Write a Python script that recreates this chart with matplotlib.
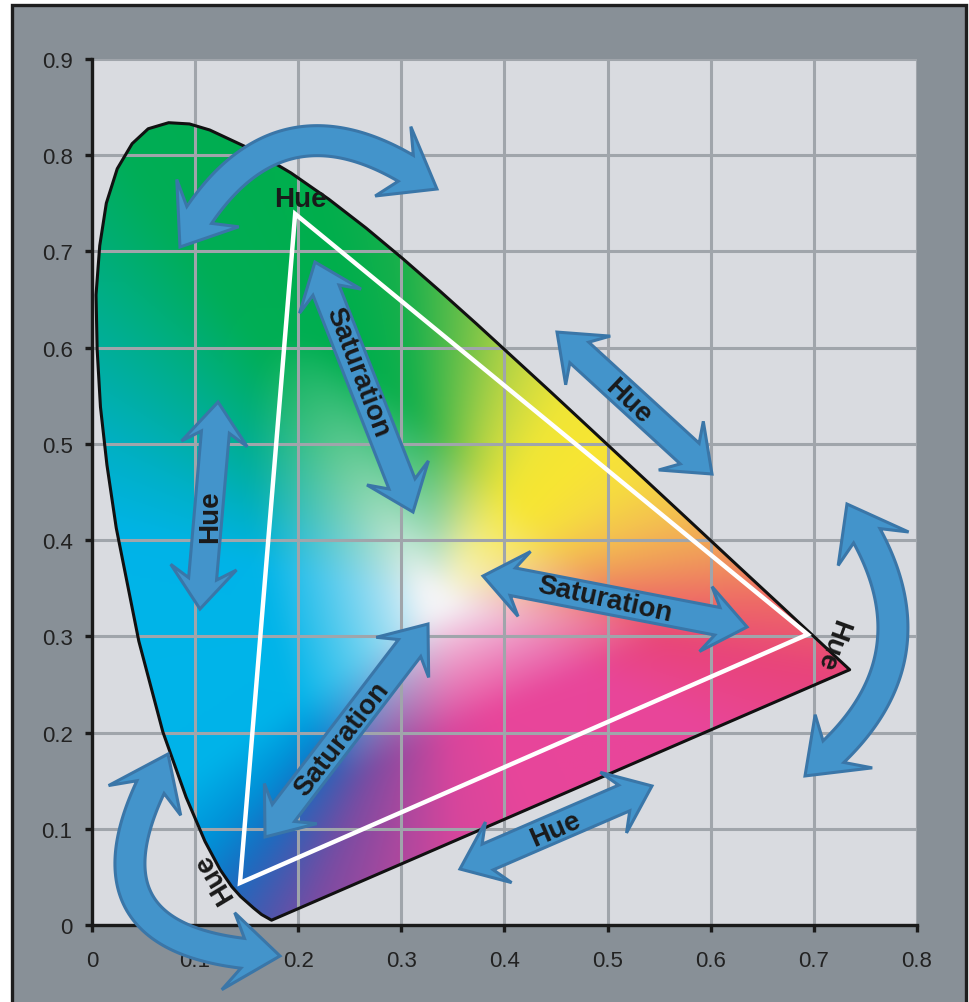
import numpy as np
import matplotlib
matplotlib.use("Agg")
import matplotlib.pyplot as plt
from matplotlib.patches import Polygon, Rectangle
from matplotlib.colors import to_rgb

plt.rcParams["font.family"] = ["Liberation Sans", "DejaVu Sans"]

# spectral locus outline (x, y chromaticity)
locus_x = [0.1741, 0.1644, 0.1566, 0.1440, 0.1355, 0.1241, 0.1096, 0.0913, 0.0687,
           0.0454, 0.0235, 0.0145, 0.0082, 0.0050, 0.0039, 0.0075, 0.0139, 0.0245,
           0.0389, 0.0545, 0.0743, 0.0945, 0.1142, 0.1547, 0.1929, 0.2296, 0.2658,
           0.3016, 0.3373, 0.3731, 0.4441, 0.5125, 0.5752, 0.6270, 0.6658, 0.6915,
           0.7190, 0.7347]
locus_y = [0.0050, 0.0109, 0.0177, 0.0297, 0.0399, 0.0578, 0.0868, 0.1327, 0.2007,
           0.2950, 0.4127, 0.4780, 0.5384, 0.5980, 0.6548, 0.7060, 0.7502, 0.7860,
           0.8120, 0.8275, 0.8338, 0.8325, 0.8262, 0.8059, 0.7816, 0.7543, 0.7243,
           0.6923, 0.6589, 0.6245, 0.5547, 0.4866, 0.4242, 0.3725, 0.3340, 0.3083,
           0.2809, 0.2653]

# display gamut triangle (white outline)
gamut_x = [0.197, 0.694, 0.1435]
gamut_y = [0.739, 0.302, 0.0437]

white_point = (0.335, 0.335)

x_ticks = [0, 0.1, 0.2, 0.3, 0.4, 0.5, 0.6, 0.7, 0.8]
x_tick_labels = ["0", "0.1", "0.2", "0.3", "0.4", "0.5", "0.6", "0.7", "0.8"]
y_ticks = [0, 0.1, 0.2, 0.3, 0.4, 0.5, 0.6, 0.7, 0.8, 0.9]
y_tick_labels = ["0", "0.1", "0.2", "0.3", "0.4", "0.5", "0.6", "0.7", "0.8", "0.9"]

# arrows: start tip, end tip (data units), bulge of the arc (fraction of chord)
arrow_start = [(0.0853, 0.7046), (0.7321, 0.4375), (0.0737, 0.1777),
               (0.1222, 0.5435), (0.4509, 0.6162), (0.3568, 0.0582),
               (0.2162, 0.6890), (0.3792, 0.3627), (0.1678, 0.0915)]
arrow_end = [(0.3345, 0.7649), (0.6914, 0.1549), (0.1823, -0.0322),
             (0.1047, 0.3284), (0.6012, 0.4687), (0.5430, 0.1445),
             (0.3113, 0.4292), (0.6352, 0.3097), (0.3258, 0.3128)]
arrow_bulge = [0.29, 0.24, -0.42, 0, 0, 0, 0, 0, 0]

# labels on the arrows
label_text = ["Hue", "Hue", "Hue", "Hue", "Hue", "Hue",
              "Saturation", "Saturation", "Saturation"]
label_x = [0.2017, 0.7176, 0.1183, 0.1144, 0.5198, 0.4490, 0.2570, 0.4975, 0.2424]
label_y = [0.7545, 0.2920, 0.0499, 0.4251, 0.5446, 0.0998, 0.5747, 0.3388, 0.1933]
label_rot = [0, -110, 121, 90, -43.5, 23.5, -69, -12.5, 52]

# hue colours around the white point (angle in degrees, colour)
hue_angles = [0, 10, 20, 32, 45, 58, 68, 76, 86, 96, 106, 125, 140, 155, 168,
              215, 226, 234, 241, 248, 260, 275, 295, 335, 350]
hue_colors = ["#ee6a66", "#f09c5a", "#f4c050", "#f6dc40", "#f8e632", "#f0e636",
              "#d0dc40", "#a8d046", "#60be4a", "#18b04c", "#00ae4c", "#00ae56",
              "#00ae90", "#00b0c6", "#00b4e8", "#00b4ea", "#0092d8", "#1a6cc0",
              "#4a58ae", "#7a4ca2", "#a8489e", "#d8459c", "#e8459a", "#e8469a",
              "#e8447a"]


def arrow_polygon(ax, p0, p1, bulge, w, hw, hl, k=0.72):
    """Double headed (optionally curved) block arrow, built in pixel space."""
    T = ax.transData
    a = T.transform(p0)
    b = T.transform(p1)
    chord = b - a
    L = np.hypot(*chord)
    d = chord / L
    nrm = np.array([-d[1], d[0]])
    ctrl = (a + b) / 2 + nrm * 2 * bulge * L
    t = np.linspace(0, 1, 600)[:, None]
    C = (1 - t) ** 2 * a + 2 * (1 - t) * t * ctrl + t ** 2 * b
    seg = np.hypot(*np.diff(C, axis=0).T)
    s = np.concatenate([[0], np.cumsum(seg)])
    tot = s[-1]

    def at(si):
        p = np.array([np.interp(si, s, C[:, 0]), np.interp(si, s, C[:, 1])])
        e = 0.5
        q0 = np.array([np.interp(si - e, s, C[:, 0]), np.interp(si - e, s, C[:, 1])])
        q1 = np.array([np.interp(si + e, s, C[:, 0]), np.interp(si + e, s, C[:, 1])])
        tg = q1 - q0
        tg = tg / np.hypot(*tg)
        return p, np.array([-tg[1], tg[0]])

    shaft = np.linspace(hl * k, tot - hl * k, 80)
    left, right = [], []
    for si in shaft:
        p, n = at(si)
        left.append(p + n * w)
        right.append(p - n * w)
    p0c, n0 = at(hl)
    p1c, n1 = at(tot - hl)
    pts = [C[0], p0c + n0 * hw] + left + [p1c + n1 * hw, C[-1], p1c - n1 * hw] \
        + right[::-1] + [p0c - n0 * hw]
    return T.inverted().transform(np.array(pts))


def blur(img, sigma):
    r = int(3 * sigma)
    k = np.exp(-0.5 * (np.arange(-r, r + 1) / sigma) ** 2)
    k /= k.sum()
    out = np.pad(img, ((r, r), (r, r), (0, 0)), mode="edge")
    out = np.apply_along_axis(lambda v: np.convolve(v, k, mode="valid"), 0, out)
    out = np.apply_along_axis(lambda v: np.convolve(v, k, mode="valid"), 1, out)
    return out


def gradient_image(nx=400, ny=440):
    sx, sy = 1031.25, 962.2
    xs = np.linspace(0, 0.8, nx)
    ys = np.linspace(0, 0.9, ny)
    X, Y = np.meshgrid(xs, ys)
    dx = (X - white_point[0]) * sx
    dy = (Y - white_point[1]) * sy
    ang = np.degrees(np.arctan2(dy, dx)) % 360
    r = np.hypot(dx, dy)
    # boundary radius per angle
    bx = np.array(locus_x + [locus_x[0]])
    by = np.array(locus_y + [locus_y[0]])
    fx, fy = [], []
    for i in range(len(bx) - 1):
        fx.append(np.linspace(bx[i], bx[i + 1], 60))
        fy.append(np.linspace(by[i], by[i + 1], 60))
    fx = (np.concatenate(fx) - white_point[0]) * sx
    fy = (np.concatenate(fy) - white_point[1]) * sy
    b_ang = np.degrees(np.arctan2(fy, fx)) % 360
    b_r = np.hypot(fx, fy)
    order = np.argsort(b_ang)
    R = np.interp(ang, b_ang[order], b_r[order], period=360)
    sat = np.clip((r / R - 0.05) / 0.5, 0, 1) ** 0.8
    rgb = np.array([to_rgb(c) for c in hue_colors])
    img = np.zeros(X.shape + (3,))
    white = np.array([0.96, 0.96, 0.97])
    for ch in range(3):
        hue = np.interp(ang, hue_angles, rgb[:, ch], period=360)
        img[..., ch] = white[ch] * (1 - sat) + hue * sat
    return np.clip(blur(img, 5), 0, 1)


fig = plt.figure(figsize=(9.69, 10.03), dpi=100, facecolor="white")
fig.add_artist(Rectangle((11.5 / 969, -0.01), (966 - 11.5) / 969, (1003 - 5.5) / 1003 + 0.01,
                         transform=fig.transFigure, facecolor="#889097",
                         edgecolor="#1e1e1e", linewidth=2.4, zorder=-5))

ax = fig.add_axes([92 / 969, 77 / 1003, 825 / 969, 866 / 1003])
ax.set_facecolor("#d9dbe0")
ax.set_xlim(0, 0.8)
ax.set_ylim(0, 0.9)

for side in ["top", "right"]:
    ax.spines[side].set_visible(False)
for side in ["left", "bottom"]:
    ax.spines[side].set_linewidth(2.4)
    ax.spines[side].set_color("#1a1a1a")

ax.set_xticks(x_ticks, x_tick_labels)
ax.set_yticks(y_ticks, y_tick_labels)
ax.tick_params(axis="both", direction="out", length=5, width=2.4, color="#1a1a1a",
               labelsize=16, labelcolor="#222222")
ax.tick_params(axis="x", pad=13)
ax.tick_params(axis="y", pad=9)
ax.set_axisbelow(True)

# horseshoe fill
horseshoe = Polygon(np.column_stack([locus_x, locus_y]), closed=True,
                    facecolor="none", edgecolor="#111111", linewidth=2.2,
                    joinstyle="round", zorder=2)
ax.add_patch(horseshoe)
img = ax.imshow(gradient_image(), extent=(0, 0.8, 0, 0.9), origin="lower",
                aspect="auto", interpolation="bilinear", zorder=0.2)
img.set_clip_path(horseshoe)

# grid over the colour fill
ax.grid(True, color="#a0a5ab", linewidth=2.2)
for gl in ax.get_xgridlines() + ax.get_ygridlines():
    gl.set_zorder(1)

# gamut triangle
ax.add_patch(Polygon(np.column_stack([gamut_x, gamut_y]), closed=True,
                     facecolor="none", edgecolor="white", linewidth=3.2,
                     joinstyle="miter", zorder=3))

# arrows
for p0, p1, bl in zip(arrow_start, arrow_end, arrow_bulge):
    if bl != 0:
        w, hw, hl = 15, 39, 52
    else:
        w, hw, hl = 14, 33, 42
    poly = arrow_polygon(ax, p0, p1, bl, w, hw, hl)
    ax.add_patch(Polygon(poly, closed=True, facecolor="#4394cb", edgecolor="#3a76a8",
                         linewidth=2.2, joinstyle="miter", zorder=4, clip_on=False))

for txt, x, y, rot in zip(label_text, label_x, label_y, label_rot):
    ax.text(x, y, txt, rotation=rot, rotation_mode="anchor", ha="center", va="center",
            fontsize=20, fontweight="bold", color="#1a1a1a", zorder=6)

fig.savefig("out.png", dpi=100)
